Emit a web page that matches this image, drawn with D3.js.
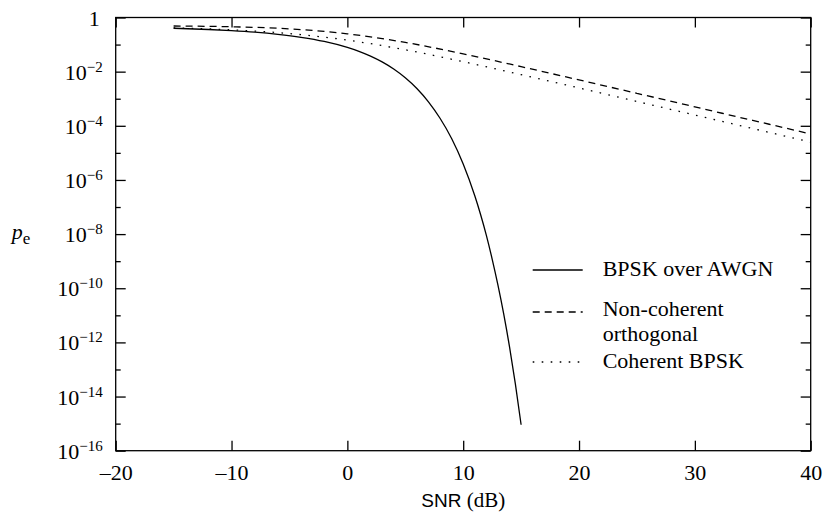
<!DOCTYPE html>
<head>
    <title>Error probability vs SNR</title>
</head>
<meta charset="utf-8">

<script src="https://d3js.org/d3.v7.min.js"></script>

<div id="my_dataviz"></div>
<body style="margin:0">
    <script>

    // BPSK over AWGN (solid)
    var snrAwgn = [-15, -12, -10, -8, -6, -4, -2, 0, 1, 2, 3, 4, 5, 6, 7, 8, 9, 10, 11,
                   11.5, 12, 12.5, 13, 13.5, 14, 14.5, 15];
    var peAwgn  = [0.401, 0.361, 0.327, 0.287, 0.239, 0.186, 0.131, 0.0786, 0.0563, 0.0375,
                   0.0229, 0.0125, 0.00595, 0.00239, 7.7e-4, 1.9e-4, 3.4e-5, 3.9e-6, 2.6e-7,
                   5.3e-8, 9.0e-9, 1.2e-9, 1.3e-10, 1.1e-11, 6.8e-13, 3.0e-14, 9.1e-16];

    // Rayleigh fading curves
    var snrFading = [-15, -10, -5, 0, 5, 10, 15, 20, 25, 30, 35, 40];
    var peNonCoherent = [0.485, 0.455, 0.380, 0.250, 0.120, 0.0455, 0.0153, 4.95e-3, 1.58e-3, 5.0e-4, 1.58e-4, 5.0e-5];
    var peCoherent    = [0.413, 0.349, 0.255, 0.146, 0.0642, 0.0233, 7.7e-3, 2.5e-3, 7.9e-4, 2.5e-4, 7.9e-5, 2.5e-5];

    var xTicks = [-20, -10, 0, 10, 20, 30, 40];
    var yMajorExp = [0, -2, -4, -6, -8, -10, -12, -14, -16];
    var yMinorExp = [-1, -3, -5, -7, -9, -11, -13, -15];

    var legendNames = [["BPSK over AWGN"], ["Non-coherent", "orthogonal"], ["Coherent BPSK"]];

    var serif = "'Liberation Serif', 'Times New Roman', Times, serif";
    var sans = "'Liberation Sans', Arial, Helvetica, sans-serif";

    var margin = {top: 17.5, right: 17.3, bottom: 71.3, left: 115.7},
      width = 828 - margin.left - margin.right,
      height = 522 - margin.top - margin.bottom;

    var svg = d3.select("#my_dataviz")
    .append("svg")
      .attr("width", 828)
      .attr("height", 522)
      .style("font-family", serif)
    .append("g")
      .attr("transform", "translate(" + margin.left + "," + margin.top + ")");

    var x = d3.scaleLinear().domain([-20, 40]).range([0, width]);
    var y = d3.scaleLog().domain([1e-16, 1]).range([height, 0]);

    var sup = function(e) { return e === 0 ? "" : "\u2212" + Math.abs(e); };

    // frame
    svg.append("rect")
      .attr("width", width).attr("height", height)
      .style("fill", "none").style("stroke", "#000").style("stroke-width", 1.3);

    var tickStyle = function(g) {
      g.select(".domain").remove();
      g.attr("font-family", null);
      g.selectAll("line").style("stroke", "#000").style("stroke-width", 1.3);
    };

    // bottom / top
    svg.append("g")
      .attr("transform", "translate(0," + height + ")")
      .call(d3.axisBottom(x).tickValues(xTicks).tickSize(-10).tickPadding(14).tickFormat(function(d) {
        return d < 0 ? "\u2013" + Math.abs(d) : d;
      }))
      .call(tickStyle)
      .selectAll("text")
        .style("font-family", serif)
        .style("font-size", "22px")
        .style("fill", "#000");
    svg.append("g")
      .call(d3.axisTop(x).tickValues(xTicks).tickSize(-10).tickFormat(""))
      .call(tickStyle);

    // left / right ticks
    svg.append("g")
      .call(d3.axisLeft(y).tickValues(yMajorExp.map(function(e) { return Math.pow(10, e); }))
        .tickSize(-10).tickFormat(""))
      .call(tickStyle);
    svg.append("g")
      .call(d3.axisLeft(y).tickValues(yMinorExp.map(function(e) { return Math.pow(10, e); }))
        .tickSize(-5).tickFormat(""))
      .call(tickStyle);
    svg.append("g")
      .attr("transform", "translate(" + width + ",0)")
      .call(d3.axisRight(y).tickValues(yMajorExp.map(function(e) { return Math.pow(10, e); }))
        .tickSize(-10).tickFormat(""))
      .call(tickStyle);
    svg.append("g")
      .attr("transform", "translate(" + width + ",0)")
      .call(d3.axisRight(y).tickValues(yMinorExp.map(function(e) { return Math.pow(10, e); }))
        .tickSize(-5).tickFormat(""))
      .call(tickStyle);

    var yLab = svg.append("g").selectAll("text")
      .data(yMajorExp).enter()
      .append("text")
        .attr("x", -13)
        .attr("y", function(d) { return y(Math.pow(10, d)) + 8; })
        .style("text-anchor", "end")
        .style("font-family", serif)
        .style("font-size", "22px");
    yLab.filter(function(d) { return d === 0; }).text("1").attr("x", -16);
    yLab.filter(function(d) { return d !== 0; })
      .each(function(d) {
        var t = d3.select(this);
        t.append("tspan").text("10");
        t.append("tspan").attr("dy", -8).style("font-size", "15px").text(sup(d));
      });

    // curves
    var line = d3.line()
      .x(function(d) { return x(d[0]); })
      .y(function(d) { return y(d[1]); })
      .curve(d3.curveMonotoneX);

    var series = [
      {pts: d3.zip(snrAwgn, peAwgn), dash: null},
      {pts: d3.zip(snrFading, peNonCoherent), dash: "7,5"},
      {pts: d3.zip(snrFading, peCoherent), dash: "1.6,7.4"}
    ];

    svg.selectAll("myPath")
      .data(series)
      .enter()
      .append("path")
        .attr("d", function(d) { return line(d.pts); })
        .style("fill", "none")
        .style("stroke", "#000")
        .style("stroke-width", 1.3)
        .style("stroke-dasharray", function(d) { return d.dash; });

    // legend
    var legY = [252.5, 294.5, 344.5];
    var legText = [258, 298.5, 350.5];
    var leg = svg.append("g");
    series.forEach(function(s, i) {
      leg.append("line")
        .attr("x1", 417).attr("x2", 467)
        .attr("y1", legY[i]).attr("y2", legY[i])
        .style("stroke", "#000").style("stroke-width", 1.3)
        .style("stroke-dasharray", s.dash);
      var t = leg.append("text")
        .attr("x", 487).attr("y", legText[i])
        .style("font-family", serif)
        .style("font-size", "22px");
      legendNames[i].forEach(function(name, j) {
        t.append("tspan")
          .attr("x", 487).attr("dy", j === 0 ? 0 : 24.6)
          .text(name);
      });
    });

    // axis labels
    var xl = svg.append("text")
      .attr("x", width / 2).attr("y", 489.5)
      .style("text-anchor", "middle");
    xl.append("tspan").style("font-family", sans).style("font-size", "19px").text("SNR ");
    xl.append("tspan").style("font-family", serif).style("font-size", "21px").text("(dB)");

    var pl = svg.append("text")
      .attr("x", -104).attr("y", 221.5)
      .style("font-family", serif);
    pl.append("tspan").style("font-style", "italic").style("font-size", "22px").text("p");
    pl.append("tspan").attr("dy", 5).style("font-size", "17px").text("e");

</script>
</body>
